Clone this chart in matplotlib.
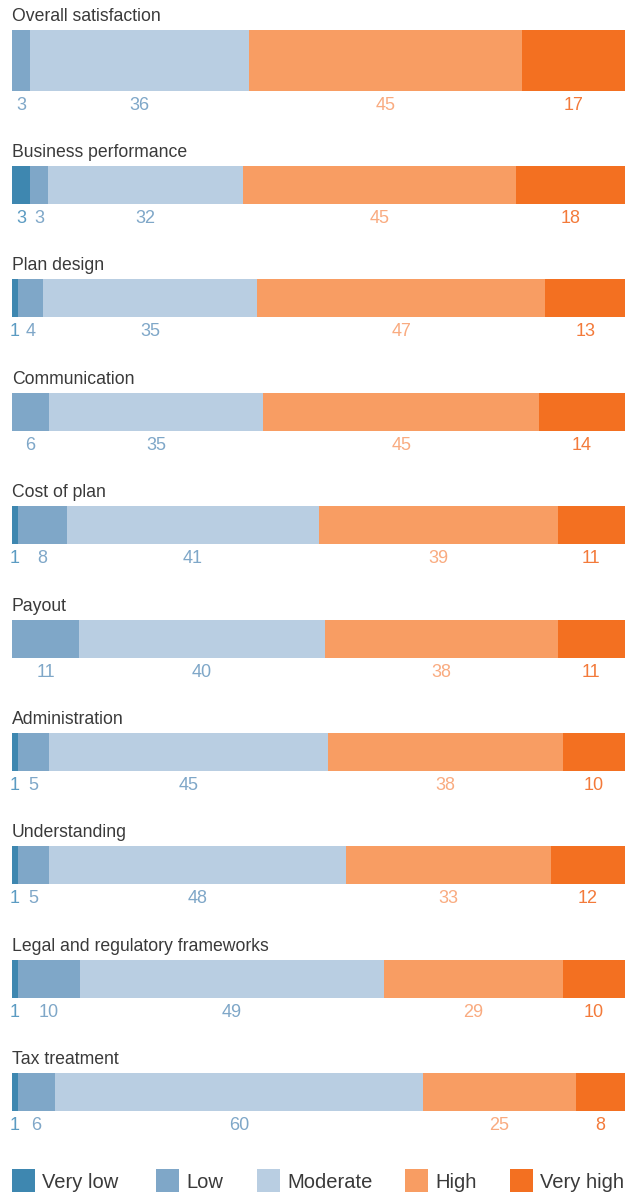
import matplotlib
matplotlib.use("Agg")
import matplotlib.pyplot as plt
from matplotlib.patches import Rectangle

# Survey results per item, in percent
items = [
    "Overall satisfaction",
    "Business performance",
    "Plan design",
    "Communication",
    "Cost of plan",
    "Payout",
    "Administration",
    "Understanding",
    "Legal and regulatory frameworks",
    "Tax treatment",
]
very_low = [0, 3, 1, 0, 1, 0, 1, 1, 1, 1]
low = [3, 3, 4, 6, 8, 11, 5, 5, 10, 6]
moderate = [36, 32, 35, 35, 41, 40, 45, 48, 49, 60]
high = [45, 45, 47, 45, 39, 38, 38, 33, 29, 25]
very_high = [17, 18, 13, 14, 11, 11, 10, 12, 10, 8]

levels = ["Very low", "Low", "Moderate", "High", "Very high"]
bar_colors = ["#3e87b0", "#7fa7c8", "#b9cee2", "#f89d63", "#f37021"]
label_colors = ["#5b9bc2", "#7fa7c8", "#7fa7c8", "#f9ab80", "#f37a3a"]

plt.rcParams["font.family"] = ["Liberation Sans", "DejaVu Sans"]

W, H = 637, 1195
fig = plt.figure(figsize=(W / 100, H / 100), dpi=100)

# x axis in percent: 0..100 spans pixels 12..625, y axis in pixels from top
x0, x1 = 12, 625
ppu = (x1 - x0) / 100
ax = fig.add_axes([0, 0, 1, 1])
ax.set_xlim(-x0 / ppu, 100 + (W - x1) / ppu)
ax.set_ylim(H, 0)
ax.axis("off")

series = [very_low, low, moderate, high, very_high]
for i, name in enumerate(items):
    if i == 0:
        top, height = 30, 61
    else:
        top, height = 166 + (i - 1) * 113.4, 38
    vals = [s[i] for s in series]
    total = sum(vals)
    left = 0
    for v, c, lc in zip(vals, bar_colors, label_colors):
        w = v * 100 / total
        if v > 0:
            ax.barh(top + height / 2, w, height=height, left=left, color=c,
                    linewidth=0)
            ax.text(left + w / 2, top + height + 14.5, str(v), color=lc,
                    fontsize=13, ha="center", va="center")
        left += w
    ax.text(0, top - 9, name, color="#3a3a3a", fontsize=12.7, ha="left",
            va="baseline")

# legend row
lx = [12, 156, 257, 405, 510]
for x, name, c in zip(lx, levels, bar_colors):
    ax.add_patch(Rectangle(((x - x0) / ppu, 1169), 23 / ppu, 23, color=c,
                           linewidth=0))
    ax.text((x + 30 - x0) / ppu, 1182, name, color="#3a3a3a", fontsize=14.5,
            ha="left", va="center")

fig.savefig("out.png", dpi=100)
